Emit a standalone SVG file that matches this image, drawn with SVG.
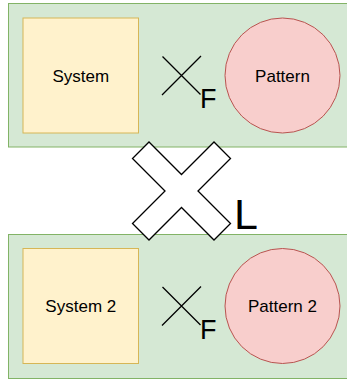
<svg xmlns="http://www.w3.org/2000/svg" width="347" height="381" viewBox="0 0 347 381">
<style>
.cont{fill:#d5e8d4;stroke:#82b366;stroke-width:1}
.sys{fill:#fff2cc;stroke:#d6b656;stroke-width:1}
.pat{fill:#f8cecc;stroke:#b85450;stroke-width:1}
.lbl{font-family:"Liberation Sans",Arial,sans-serif;font-size:17px;fill:#000;text-anchor:middle}
.x{stroke:#000;stroke-width:1.3;fill:none}
.big{font-family:"Liberation Sans",Arial,sans-serif;fill:#000}
</style>
<rect width="347" height="381" fill="#ffffff"/>
<g id="container1"><rect class="cont" x="8.5" y="3.5" width="345" height="143.5"/></g>
<g id="container2"><rect class="cont" x="8.5" y="234.5" width="345" height="144"/></g>
<g id="system"><rect class="sys" x="23" y="18" width="115.5" height="115"/><text class="lbl" x="80.8" y="81.5">System</text></g>
<g id="pattern"><circle class="pat" cx="282.5" cy="75.5" r="57.5"/><text class="lbl" x="282.5" y="81.5">Pattern</text></g>
<g id="system2"><rect class="sys" x="23" y="248.5" width="115.5" height="115"/><text class="lbl" x="80.8" y="312">System 2</text></g>
<g id="pattern2"><circle class="pat" cx="282.5" cy="306" r="57.5"/><text class="lbl" x="282.5" y="312">Pattern 2</text></g>
<g id="connectors">
<g id="nf1"><path class="x" d="M162,95 L201,56 M162.5,56.5 L200.5,94.5"/><text class="big" x="200" y="107.5" font-size="27">F</text></g>
<g id="nf2"><path class="x" d="M162,325.5 L201,286.5 M162.5,287 L200.5,325"/><text class="big" x="200" y="338.5" font-size="27">F</text></g>
<g id="nl"><polygon points="181.5,174.5 214,142 230.5,158.5 198,191 230.5,223.5 214,240 181.5,207.5 149,240 132.5,223.5 165,191 132.5,158.5 149,142" fill="#ffffff" stroke="#000" stroke-width="1.3"/><text class="big" x="234" y="228.5" font-size="43">L</text></g>
</g>
</svg>
